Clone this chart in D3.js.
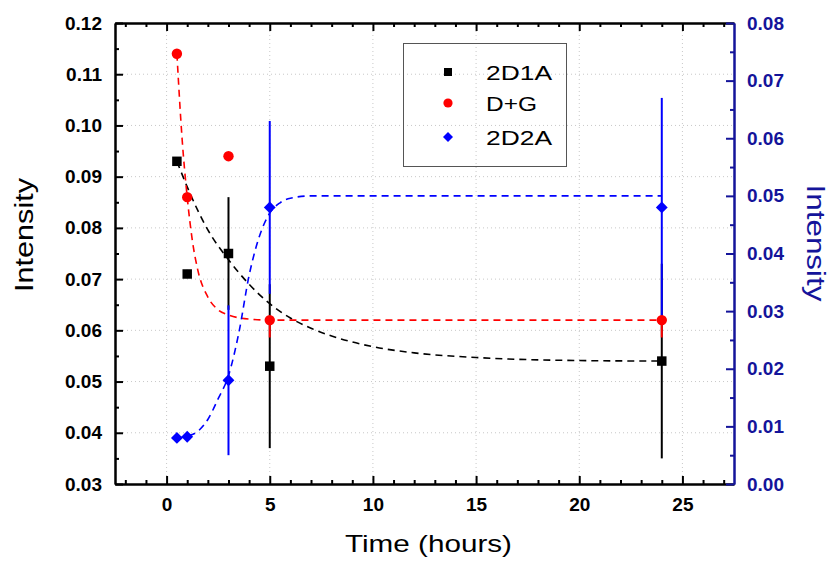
<!DOCTYPE html>
<html>
<head>
<meta charset="utf-8">
<script src="https://cdn.jsdelivr.net/npm/d3@7"></script>
<style>
  body { margin: 0; background: #fff; }
  text { font-family: Arial, "Liberation Sans", sans-serif; }
</style>
</head>
<body>
<div id="chart"></div>
<script>
// measured points
var hours = [0.5, 1, 3, 5, 24];

var d1aVals = [0.093, 0.071, 0.075, 0.053, 0.054];
var d1aErr  = [0.0005, 0.0008, 0.011, 0.016, 0.019];

var dgVals    = [0.114, 0.086, 0.094, 0.062, 0.062];
var dgErrUp   = [0.0004, 0.0003, 0.0008, 0, 0];
var dgErrDown = [0.0004, 0.0003, 0.0008, 0.0034, 0.0034];

var d2aVals = [0.008, 0.0082, 0.018, 0.048, 0.048];   // right axis
var d2aErr  = [0, 0, 0.013, 0.015, 0.019];

// fitted curves
var d1aFitX = [0.5, 1, 2, 3, 4, 5, 6, 7, 8, 10, 12, 15, 20, 24];
var d1aFitY = [0.093, 0.088, 0.0796, 0.0738, 0.069, 0.0652, 0.0624, 0.0604, 0.0589, 0.0568, 0.0556, 0.0547, 0.0541, 0.054];

var dgFitX = [0.5, 0.75, 1, 1.25, 1.5, 2, 2.5, 3, 4, 5, 24];
var dgFitY = [0.114, 0.0975, 0.086, 0.0775, 0.072, 0.0665, 0.064, 0.063, 0.0622, 0.062, 0.062];

var d2aFitX = [0.5, 1, 1.5, 2, 2.5, 3, 3.5, 4, 4.5, 5, 5.5, 6, 7, 24];
var d2aFitY = [0.008, 0.0083, 0.0091, 0.0112, 0.0148, 0.0188, 0.0262, 0.0362, 0.043, 0.047, 0.0488, 0.0496, 0.05, 0.05];

var xTicks = [0, 5, 10, 15, 20, 25];
var yLeftTicks = [0.03, 0.04, 0.05, 0.06, 0.07, 0.08, 0.09, 0.10, 0.11, 0.12];
var yRightTicks = [0, 0.01, 0.02, 0.03, 0.04, 0.05, 0.06, 0.07, 0.08];
var legendNames = ["2D1A", "D+G", "2D2A"];

var W = 830, H = 563;
var pLeft = 115, pRight = 734, pTop = 23, pBottom = 484;
var navy = "#14149a";

var svg = d3.select("#chart").append("svg")
  .attr("width", W)
  .attr("height", H);

var x = d3.scaleLinear().domain([-2.5, 27.5]).range([pLeft, pRight]);
var yL = d3.scaleLinear().domain([0.03, 0.12]).range([pBottom, pTop]);
var yR = d3.scaleLinear().domain([0, 0.08]).range([pBottom, pTop]);

// grid
svg.append("g").selectAll("line").data(xTicks).join("line")
  .attr("x1", d => x(d)).attr("x2", d => x(d))
  .attr("y1", pTop).attr("y2", pBottom)
  .attr("stroke", "#c8c8c8").attr("stroke-width", 1).attr("stroke-dasharray", "1,3");
svg.append("g").selectAll("line").data(yLeftTicks.slice(1, -1)).join("line")
  .attr("x1", pLeft).attr("x2", pRight)
  .attr("y1", d => yL(d)).attr("y2", d => yL(d))
  .attr("stroke", "#c8c8c8").attr("stroke-width", 1).attr("stroke-dasharray", "1,3");

// axes
function minorRange(a, b, step, skip) {
  var out = [];
  for (var v = a; v <= b + 1e-9; v += step) {
    var r = Math.round(v * 1000) / 1000;
    if (skip.indexOf(r) < 0) out.push(r);
  }
  return out;
}
var xMinor = minorRange(-2, 27, 1, xTicks);
var yLMinor = [0.035, 0.045, 0.055, 0.065, 0.075, 0.085, 0.095, 0.105, 0.115];
var yRMinor = [0.005, 0.015, 0.025, 0.035, 0.045, 0.055, 0.065, 0.075];

function styleAxis(g, color) {
  g.select(".domain").attr("stroke", color).attr("stroke-width", 2);
  g.selectAll(".tick line").attr("stroke", color).attr("stroke-width", 2);
  g.selectAll(".tick text").attr("fill", color)
    .style("font-size", "19px").style("font-weight", "bold")
    .style("font-family", "Arial, 'Liberation Sans', sans-serif");
}

// bottom
svg.append("g").attr("transform", "translate(0," + pBottom + ")")
  .call(d3.axisBottom(x).tickValues(xMinor).tickSize(-4).tickSizeOuter(0).tickFormat(""))
  .call(g => styleAxis(g, "#000"));
svg.append("g").attr("transform", "translate(0," + pBottom + ")")
  .call(d3.axisBottom(x).tickValues(xTicks).tickSize(-8).tickSizeOuter(0).tickPadding(14).tickFormat(d3.format("d")))
  .call(g => styleAxis(g, "#000"));
// top
svg.append("g").attr("transform", "translate(0," + pTop + ")")
  .call(d3.axisTop(x).tickValues(xMinor).tickSize(-4).tickSizeOuter(0).tickFormat(""))
  .call(g => styleAxis(g, "#000"));
svg.append("g").attr("transform", "translate(0," + pTop + ")")
  .call(d3.axisTop(x).tickValues(xTicks).tickSize(-8).tickSizeOuter(0).tickFormat(""))
  .call(g => styleAxis(g, "#000"));
// left
svg.append("g").attr("transform", "translate(" + pLeft + ",0)")
  .call(d3.axisLeft(yL).tickValues(yLMinor).tickSize(-4).tickSizeOuter(0).tickFormat(""))
  .call(g => styleAxis(g, "#000"));
svg.append("g").attr("transform", "translate(" + pLeft + ",0)")
  .call(d3.axisLeft(yL).tickValues(yLeftTicks).tickSize(-8).tickSizeOuter(0).tickPadding(13).tickFormat(d3.format(".2f")))
  .call(g => styleAxis(g, "#000"));
// right
svg.append("g").attr("transform", "translate(" + pRight + ",0)")
  .call(d3.axisRight(yR).tickValues(yRMinor).tickSize(-4).tickSizeOuter(0).tickFormat(""))
  .call(g => styleAxis(g, navy));
svg.append("g").attr("transform", "translate(" + pRight + ",0)")
  .call(d3.axisRight(yR).tickValues(yRightTicks).tickSize(-8).tickSizeOuter(0).tickPadding(13).tickFormat(d3.format(".2f")))
  .call(g => styleAxis(g, navy));

// titles
svg.append("text").attr("x", 345).attr("y", 552)
  .attr("textLength", 167).attr("lengthAdjust", "spacingAndGlyphs")
  .style("font-size", "24px").text("Time (hours)");
svg.append("text").attr("transform", "translate(33,235) rotate(-90)")
  .attr("text-anchor", "middle")
  .attr("textLength", 114).attr("lengthAdjust", "spacingAndGlyphs")
  .style("font-size", "25px").text("Intensity");
svg.append("text").attr("transform", "translate(807,243) rotate(90)")
  .attr("text-anchor", "middle").attr("fill", navy)
  .attr("textLength", 117).attr("lengthAdjust", "spacingAndGlyphs")
  .style("font-size", "25px").text("Intensity");

// fit curves
function fitLine(xs, ys, yScale, color) {
  var pts = xs.map((d, i) => [d, ys[i]]);
  svg.append("path")
    .datum(pts)
    .attr("fill", "none")
    .attr("stroke", color)
    .attr("stroke-width", 1.6)
    .attr("stroke-dasharray", "7,5")
    .attr("d", d3.line().curve(d3.curveMonotoneX).x(d => x(d[0])).y(d => yScale(d[1])));
}
fitLine(d1aFitX, d1aFitY, yL, "#000");
fitLine(dgFitX, dgFitY, yL, "#ff0000");
fitLine(d2aFitX, d2aFitY, yR, "#0000ff");

// error bars
function errBars(vals, lo, hi, yScale, color) {
  svg.append("g").selectAll("line").data(vals).join("line")
    .attr("x1", (d, i) => x(hours[i])).attr("x2", (d, i) => x(hours[i]))
    .attr("y1", (d, i) => yScale(d + hi[i])).attr("y2", (d, i) => yScale(d - lo[i]))
    .attr("stroke", color).attr("stroke-width", 2);
}
errBars(d1aVals, d1aErr, d1aErr, yL, "#000");
errBars(dgVals, dgErrDown, dgErrUp, yL, "#ff0000");
errBars(d2aVals, d2aErr, d2aErr, yR, "#0000ff");

// markers
svg.append("g").selectAll("path").data(d1aVals).join("path")
  .attr("d", d3.symbol(d3.symbolSquare, 90))
  .attr("transform", (d, i) => "translate(" + x(hours[i]) + "," + yL(d) + ")")
  .attr("fill", "#000");
svg.append("g").selectAll("circle").data(dgVals).join("circle")
  .attr("cx", (d, i) => x(hours[i])).attr("cy", d => yL(d)).attr("r", 5.2)
  .attr("fill", "#ff0000");
svg.append("g").selectAll("path").data(d2aVals).join("path")
  .attr("d", d3.symbol(d3.symbolSquare, 70))
  .attr("transform", (d, i) => "translate(" + x(hours[i]) + "," + yR(d) + ") rotate(45)")
  .attr("fill", "#0000ff");

// legend
var lg = svg.append("g");
lg.append("rect").attr("x", 403.5).attr("y", 43.5).attr("width", 163).attr("height", 123)
  .attr("fill", "none").attr("stroke", "#555").attr("stroke-width", 1);
var rowsY = [72, 103, 137];
var legendW = [66, 51, 66];
lg.append("path").attr("d", d3.symbol(d3.symbolSquare, 64))
  .attr("transform", "translate(448," + rowsY[0] + ")").attr("fill", "#000");
lg.append("circle").attr("cx", 448).attr("cy", rowsY[1]).attr("r", 4.6).attr("fill", "#ff0000");
lg.append("path").attr("d", d3.symbol(d3.symbolSquare, 50))
  .attr("transform", "translate(448," + rowsY[2] + ") rotate(45)").attr("fill", "#0000ff");
lg.selectAll("text.lab").data(legendNames).join("text")
  .attr("class", "lab")
  .attr("x", 486).attr("y", (d, i) => rowsY[i] + 8)
  .attr("textLength", (d, i) => legendW[i]).attr("lengthAdjust", "spacingAndGlyphs")
  .style("font-size", "21px").text(d => d);
</script>
</body>
</html>
